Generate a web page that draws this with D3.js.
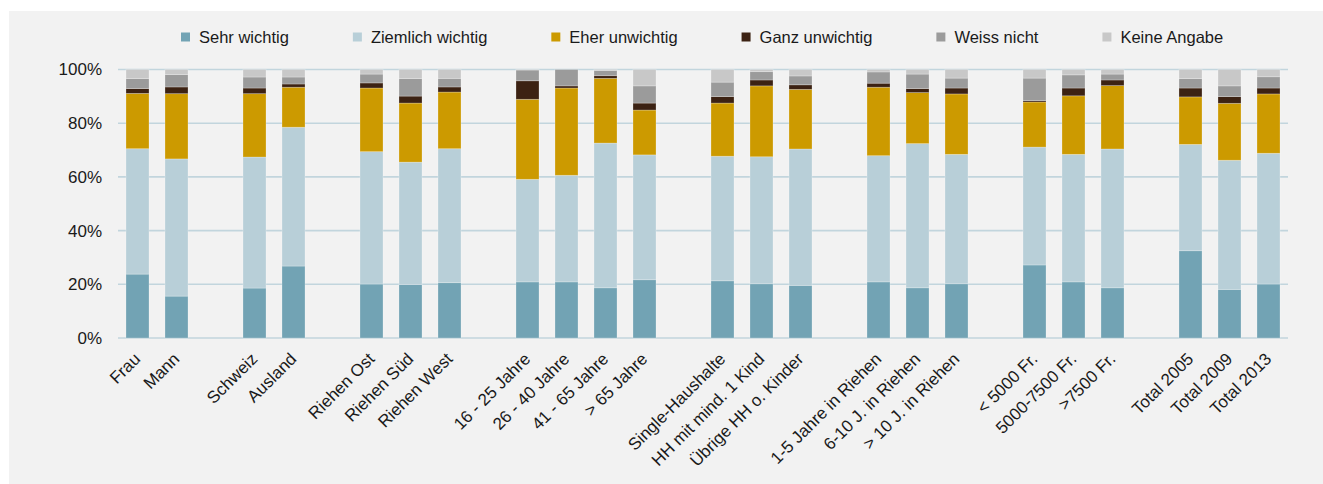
<!DOCTYPE html>
<html>
<head>
<meta charset="utf-8">
<script src="https://cdn.jsdelivr.net/npm/d3@7"></script>
<style>
  html, body { margin: 0; padding: 0; background: #ffffff; }
  svg { display: block; }
  text { font-family: "Liberation Sans", Arial, sans-serif; fill: #1a1a1a; }
</style>
</head>
<body>
<svg id="chart" width="1323" height="484"></svg>
<script>
// ---- data ----
const categories = [
  "Frau", "Mann",
  "Schweiz", "Ausland",
  "Riehen Ost", "Riehen Süd", "Riehen West",
  "16 - 25 Jahre", "26 - 40 Jahre", "41 - 65 Jahre", "> 65 Jahre",
  "Single-Haushalte", "HH mit mind. 1 Kind", "Übrige HH o. Kinder",
  "1-5 Jahre in Riehen", "6-10 J. in Riehen", "> 10 J. in Riehen",
  "< 5000 Fr.", "5000-7500 Fr.", ">7500 Fr.",
  "Total 2005", "Total 2009", "Total 2013"
];
const groupSizes = [2, 2, 3, 4, 3, 3, 3, 3];

const seriesNames = ["Sehr wichtig", "Ziemlich wichtig", "Eher unwichtig", "Ganz unwichtig", "Weiss nicht", "Keine Angabe"];
const sehrWichtig     = [23.8,15.6,18.6,26.8,20.1,19.9,20.6,20.9,20.9,18.7,21.7,21.3,20.2,19.6,20.9,18.7,20.2,27.2,20.9,18.7,32.5,18.1,20.1];
const ziemlichWichtig = [46.7,51.1,48.8,51.7,49.3,45.6,49.9,38.2,39.7,53.9,46.5,46.4,47.3,50.8,47.0,53.7,48.2,43.9,47.5,51.7,39.6,48.1,48.7];
const eherUnwichtig   = [20.6,24.3,23.6,14.9,23.7,22.0,21.1,29.8,32.5,24.1,16.7,19.8,26.4,22.2,25.5,19.0,22.5,16.8,21.8,23.6,17.7,21.2,22.1];
const ganzUnwichtig   = [1.8,2.5,2.1,1.2,1.9,2.6,1.9,6.9,0.8,1.0,2.6,2.4,2.2,1.7,1.5,1.5,2.2,0.5,2.9,2.1,3.3,2.5,2.2];
const weissNicht      = [3.7,4.6,4.1,2.6,3.3,6.5,3.2,4.0,6.1,1.9,6.4,5.4,3.1,3.3,4.2,5.4,3.7,8.4,4.9,2.2,3.5,4.0,4.2];
const keineAngabe     = [3.4,1.9,2.8,2.8,1.7,3.4,3.3,0.2,0.0,0.4,6.1,4.7,0.8,2.4,0.9,1.7,3.2,3.2,2.0,1.7,3.4,6.1,2.7];
const yTicks = [0, 20, 40, 60, 80, 100];

const colors = ["#72a3b4", "#b8cfd8", "#cc9a00", "#3c2213", "#9b9b9b", "#c8c8c8"];

// ---- build table ----
const seriesValues = [sehrWichtig, ziemlichWichtig, eherUnwichtig, ganzUnwichtig, weissNicht, keineAngabe];
const table = categories.map((c, i) => {
  const row = { cat: c };
  seriesNames.forEach((s, k) => row[s] = seriesValues[k][i]);
  return row;
});

// domain with gap slots between groups
const domain = [];
let idx = 0;
groupSizes.forEach((n, g) => {
  if (g > 0) domain.push("__gap" + g);
  for (let j = 0; j < n; j++) domain.push(categories[idx++]);
});

const svg = d3.select("#chart");

// panel background
svg.append("rect").attr("x", 9).attr("y", 11).attr("width", 1314).attr("height", 473).attr("fill", "#f2f2f2");

const x = d3.scaleBand().domain(domain).range([118, 1288]).paddingInner(0.41).paddingOuter(0.205);
const y = d3.scaleLinear().domain([0, 100]).range([338, 69.5]);

// gridlines
svg.append("g").selectAll("line").data(yTicks).join("line")
  .attr("x1", 118).attr("x2", 1288)
  .attr("y1", d => y(d)).attr("y2", d => y(d))
  .attr("stroke", "#c2d5dd").attr("stroke-width", 1.6);

// y tick labels
svg.append("g").selectAll("text").data(yTicks).join("text")
  .attr("x", 102).attr("y", d => y(d)).attr("dy", "0.35em")
  .attr("text-anchor", "end").style("font-size", "17px")
  .text(d => d + "%");

// stacked bars
const stack = d3.stack().keys(seriesNames);
const stacked = stack(table);
svg.append("g").selectAll("g").data(stacked).join("g")
  .attr("fill", (d, i) => colors[i])
  .selectAll("rect").data(d => d).join("rect")
  .attr("x", d => x(d.data.cat))
  .attr("width", x.bandwidth())
  .attr("y", d => y(d[1]))
  .attr("height", d => Math.max(0, y(d[0]) - y(d[1])))
  .attr("stroke", "rgba(255,255,255,0.3)")
  .attr("stroke-width", 0.8);

// x labels
svg.append("g").selectAll("text").data(categories).join("text")
  .attr("transform", d => `translate(${x(d) + x.bandwidth() / 2 + 4},360) rotate(-45)`)
  .attr("text-anchor", "end").style("font-size", "17px")
  .text(d => d);

// legend
const legend = svg.append("g");
let lx = 181;
seriesNames.forEach((s, i) => {
  legend.append("rect").attr("x", lx).attr("y", 32.5).attr("width", 9).attr("height", 9).attr("fill", colors[i]);
  const t = legend.append("text").attr("x", lx + 18).attr("y", 37).attr("dy", "0.35em")
    .style("font-size", "16.5px").text(s);
  lx += 18 + t.node().getComputedTextLength() + 64;
});
</script>
</body>
</html>
